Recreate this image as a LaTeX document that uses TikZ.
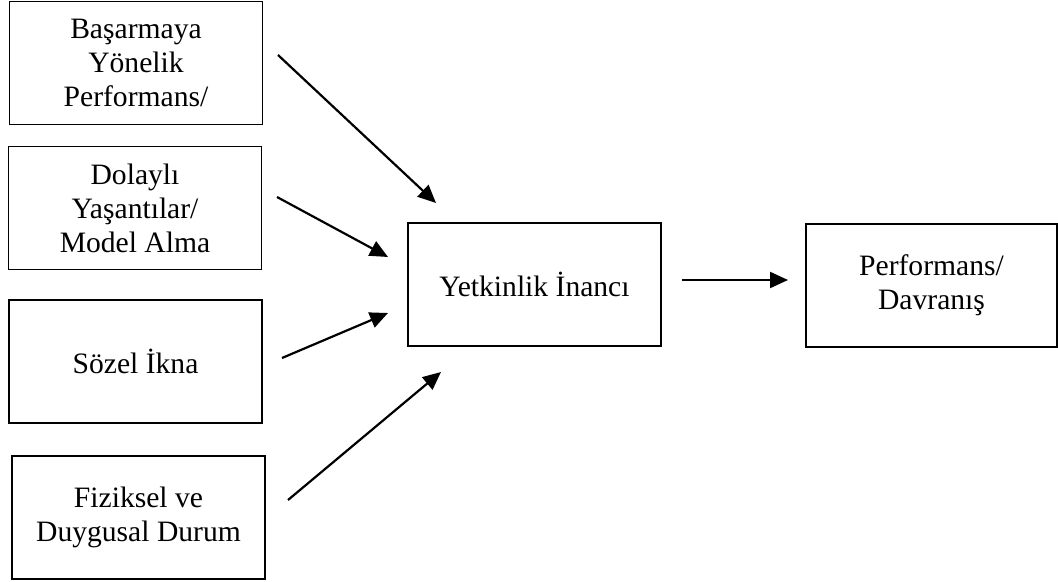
\documentclass[tikz,border=0pt]{standalone}
\usepackage{fontspec}
\setmainfont{Liberation Serif}
\usepackage{tikz}
\usetikzlibrary{arrows.meta}

\tikzset{
  kutu/.style={draw, line width=.6pt, rectangle, align=center,
    minimum width=126.5pt, minimum height=61.5pt, inner sep=0pt,
    font=\fontsize{14.8}{17}\selectfont},
  ok/.style={line width=1.1pt, -{Triangle[length=9pt,width=8pt]}}
}

\begin{document}
\begin{tikzpicture}[x={(0.5pt,0)}, y={(0,-0.5pt)}]
          \useasboundingbox (0,0) rectangle (1058,582);
          % kutular
          \node[kutu] (basari) at (136,63) {Başarmaya\\Yönelik\\Performans/};
          \node[kutu] (dolayli) at (135,208) {Dolaylı\\Yaşantılar/\\Model Alma};
          \node[kutu] (sozel) at (135.5,361.5) {Sözel İkna};
          \node[kutu] (fiziksel) at (138.5,517.5) {Fiziksel ve\\Duygusal Durum};
          \node[kutu] (yetkinlik) at (534.5,284.5) {Yetkinlik İnancı};
          \node[kutu, minimum width=125.5pt] (davranis) at (931.5,285.5) {Performans/\\Davranış};

          % oklarin uclari
          \coordinate (b1) at (278,55);   \coordinate (b2) at (436,203);
          \coordinate (d1) at (277,197);  \coordinate (d2) at (388,257);
          \coordinate (s1) at (282,358);  \coordinate (s2) at (388,313);
          \coordinate (f1) at (288,500);  \coordinate (f2) at (441,372);
          \coordinate (y1) at (682,280);  \coordinate (y2) at (788,280);

          \draw[ok] (b1) -- (b2);
          \draw[ok] (d1) -- (d2);
          \draw[ok] (s1) -- (s2);
          \draw[ok] (f1) -- (f2);
          \draw[ok] (y1) -- (y2);
\end{tikzpicture}
\end{document}
